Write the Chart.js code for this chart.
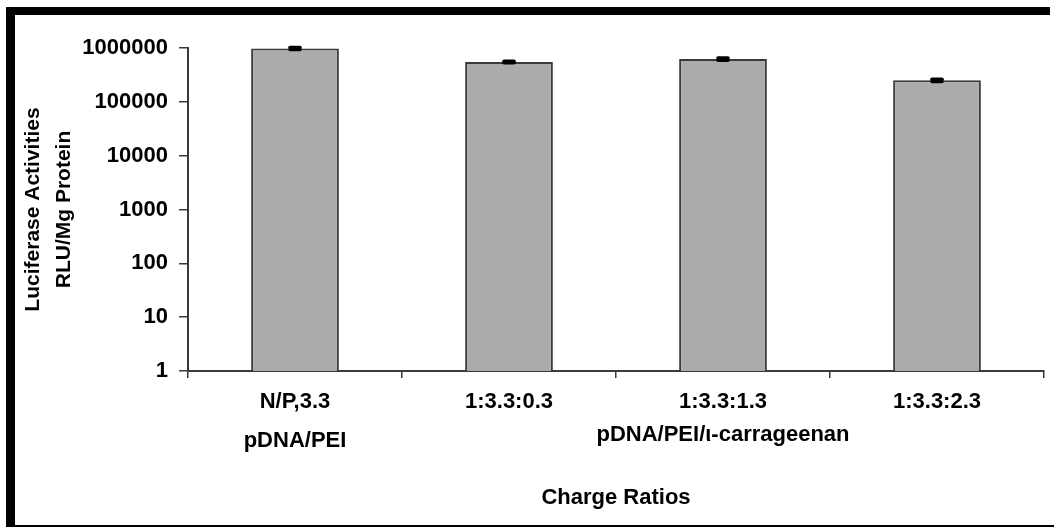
<!DOCTYPE html>
<html>
<head>
<meta charset="utf-8">
<script src="https://cdn.jsdelivr.net/npm/chart.js@4"></script>
<style>
  html, body { margin: 0; padding: 0; background: #fff; }
  #wrap { width: 1054px; height: 527px; position: relative; }
</style>
</head>
<body>
<div id="wrap"><canvas id="c"></canvas></div>
<script>
// ---- data ----
const categories = ['N/P,3.3', '1:3.3:0.3', '1:3.3:1.3', '1:3.3:2.3'];
const values = [980000, 550000, 625000, 251000];
const errors = [40000, 20000, 30000, 12000];
const yTickValues = [1, 10, 100, 1000, 10000, 100000, 1000000];
const yTickLabels = ['1', '10', '100', '1000', '10000', '100000', '1000000'];
const groupLabels = ['pDNA/PEI', 'pDNA/PEI/\u03b9-carrageenan'];
const groupStart = [0, 1];
const groupEnd = [0, 3];
const yTitle = ['Luciferase Activities', 'RLU/Mg Protein'];
const xTitle = 'Charge Ratios';

const FONT = '"Liberation Sans", Arial, Helvetica, sans-serif';
const AXIS = '#3a3a3a';

const framePlugin = {
  id: 'frame',
  beforeDraw(chart) {
    const ctx = chart.ctx;
    ctx.save();
    ctx.fillStyle = '#ffffff';
    ctx.fillRect(0, 0, chart.width, chart.height);
    ctx.fillStyle = '#000000';
    ctx.fillRect(6, 7, 1044, 8);    // top
    ctx.fillRect(6, 7, 9, 520);     // left
    ctx.fillRect(6, 525, 1048, 2);  // bottom
    ctx.restore();
  }
};

const errorBarPlugin = {
  id: 'errbars',
  afterDatasetsDraw(chart) {
    const ctx = chart.ctx;
    const meta = chart.getDatasetMeta(0);
    const ys = chart.scales.y;
    ctx.save();
    ctx.strokeStyle = '#000';
    ctx.lineCap = 'round';
    meta.data.forEach((bar, i) => {
      const hi = ys.getPixelForValue(values[i] + errors[i]);
      const lo = ys.getPixelForValue(values[i] - errors[i]);
      const x = bar.x;
      ctx.lineWidth = 2;
      ctx.beginPath(); ctx.moveTo(x, hi); ctx.lineTo(x, lo); ctx.stroke();
      ctx.lineWidth = 3.5;
      ctx.beginPath(); ctx.moveTo(x - 5, hi); ctx.lineTo(x + 5, hi); ctx.stroke();
      ctx.beginPath(); ctx.moveTo(x - 5, lo); ctx.lineTo(x + 5, lo); ctx.stroke();
    });
    ctx.restore();
  }
};

const groupLabelPlugin = {
  id: 'groups',
  afterDraw(chart) {
    const ctx = chart.ctx;
    const xs = chart.scales.x;
    ctx.save();
    ctx.fillStyle = '#000';
    ctx.font = 'bold 22px ' + FONT;
    ctx.textAlign = 'center';
    ctx.textBaseline = 'middle';
    groupLabels.forEach((lab, i) => {
      const cx = (xs.getPixelForValue(groupStart[i]) + xs.getPixelForValue(groupEnd[i])) / 2;
      const cy = xs.top + (i === 0 ? 70 : 64);
      ctx.fillText(lab, cx, cy);
    });
    ctx.restore();
  }
};

new Chart(document.getElementById('c'), {
  type: 'bar',
  data: {
    labels: categories,
    datasets: [{
      data: values,
      backgroundColor: '#ababab',
      borderColor: '#3a3a3a',
      borderWidth: 2,
      borderSkipped: 'bottom',
      categoryPercentage: 1.0,
      barPercentage: 0.41
    }]
  },
  options: {
    responsive: true,
    maintainAspectRatio: false,
    animation: false,
    events: [],
    layout: { padding: { left: 10, right: 10, top: 48, bottom: 0 } },
    plugins: { legend: { display: false }, tooltip: { enabled: false } },
    scales: {
      x: {
        type: 'category',
        afterFit(scale) { scale.height = 156; },
        grid: { drawOnChartArea: false, drawTicks: true, tickLength: 7, color: AXIS, lineWidth: 1.5, offset: true },
        border: { display: true, color: AXIS, width: 2 },
        ticks: { color: '#000', font: { family: FONT, size: 22, weight: 'bold' }, padding: 11, maxRotation: 0, autoSkip: false },
        title: { display: true, text: xTitle, color: '#000', font: { family: FONT, size: 22, weight: 'bold' }, padding: { top: 0, bottom: 16 } }
      },
      y: {
        type: 'logarithmic',
        min: 1,
        max: 1000000,
        afterFit(scale) { scale.width = 178; },
        afterBuildTicks(scale) { scale.ticks = yTickValues.map(v => ({ value: v })); },
        grid: { drawOnChartArea: false, drawTicks: true, tickLength: 9, color: AXIS, lineWidth: 1.5 },
        border: { display: true, color: AXIS, width: 2 },
        ticks: {
          color: '#000',
          font: { family: FONT, size: 22, weight: 'bold' },
          padding: 11,
          autoSkip: false,
          callback: (v, i) => yTickLabels[i]
        },
        title: { display: true, text: yTitle, color: '#000', font: { family: FONT, size: 21, weight: 'bold', lineHeight: 1.5 }, padding: { top: 7, bottom: 0 } }
      }
    }
  },
  plugins: [framePlugin, errorBarPlugin, groupLabelPlugin]
});
</script>
</body>
</html>
